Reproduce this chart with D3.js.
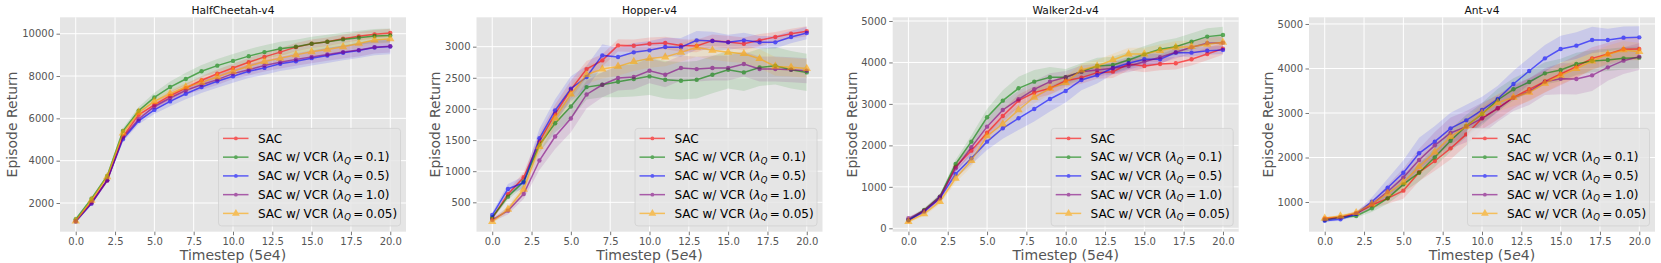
<!DOCTYPE html>
<html>
<head>
<meta charset="utf-8">
<script src="https://cdn.jsdelivr.net/npm/d3@7"></script>
<style>
  body { margin: 0; background: #fff; }
  svg { display: block; font-family: "DejaVu Sans", sans-serif; }
</style>
</head>
<body>
<svg id="chart" width="1661" height="263"></svg>
<script>
// timesteps (x 5e4)
const steps = d3.range(0, 21);

const envNames = ["HalfCheetah-v4", "Hopper-v4", "Walker2d-v4", "Ant-v4"];
const seriesNames = ["SAC", "0.1", "0.5", "1.0", "0.05"];
const seriesColors = ["red", "green", "blue", "purple", "orange"];

const yDomains = [[644, 10775], [28, 3472], [-82, 5089], [333, 5150]];
const yTicks = [
  [2000, 4000, 6000, 8000, 10000],
  [500, 1000, 1500, 2000, 2500, 3000],
  [0, 1000, 2000, 3000, 4000, 5000],
  [1000, 2000, 3000, 4000, 5000]
];
const xTicks = [0, 2.5, 5, 7.5, 10, 12.5, 15, 17.5, 20];

// HalfCheetah means
const hcSac    = [1150, 2050, 3080, 5140, 6170, 6640, 7070, 7430, 7800, 8110, 8380, 8650, 8905, 9130, 9365, 9525, 9620, 9760, 9875, 9970, 10030];
const hcVcr01  = [1230, 2200, 3280, 5400, 6360, 6990, 7480, 7860, 8225, 8490, 8715, 8940, 9130, 9290, 9385, 9525, 9620, 9730, 9810, 9890, 9920];
const hcVcr05  = [1130, 1970, 3080, 5010, 5880, 6400, 6800, 7160, 7480, 7750, 7990, 8225, 8385, 8575, 8700, 8845, 8970, 9100, 9210, 9350, 9395];
const hcVcr10  = [1130, 1990, 3050, 5090, 5960, 6560, 6960, 7320, 7590, 7830, 8115, 8300, 8495, 8650, 8780, 8905, 9020, 9130, 9225, 9365, 9410];
const hcVcr005 = [1150, 2130, 3240, 5300, 6280, 6800, 7160, 7480, 7700, 7960, 8225, 8460, 8685, 8840, 9000, 9145, 9255, 9380, 9540, 9700, 9760];
// HalfCheetah band half-widths
const hcSacSd    = [50, 60, 80, 120, 150, 180, 200, 200, 200, 200, 200, 200, 200, 200, 200, 200, 200, 200, 200, 200, 200];
const hcVcr01Sd  = [50, 60, 90, 130, 180, 220, 260, 290, 300, 310, 320, 330, 330, 330, 330, 330, 330, 330, 330, 330, 330];
const hcVcr05Sd  = [50, 60, 80, 120, 160, 200, 230, 260, 280, 300, 310, 320, 330, 340, 350, 350, 350, 360, 360, 370, 370];
const hcVcr10Sd  = [50, 60, 80, 120, 150, 180, 200, 220, 240, 250, 260, 270, 280, 290, 300, 300, 300, 300, 300, 300, 300];
const hcVcr005Sd = [50, 60, 80, 120, 150, 180, 200, 200, 200, 200, 200, 200, 200, 200, 200, 200, 200, 200, 200, 200, 200];

// Hopper means
const hoSac    = [242, 630, 902, 1477, 1922, 2308, 2640, 2780, 3021, 3016, 3048, 3059, 3020, 3010, 3097, 3075, 3048, 3102, 3156, 3209, 3247];
const hoVcr01  = [259, 591, 833, 1423, 1771, 2040, 2351, 2388, 2437, 2480, 2523, 2469, 2453, 2469, 2550, 2630, 2587, 2667, 2694, 2630, 2587];
const hoVcr05  = [296, 715, 817, 1530, 1975, 2324, 2512, 2860, 2834, 2909, 2941, 2995, 2990, 3102, 3091, 3070, 3102, 3070, 3070, 3155, 3220];
const hoVcr10  = [216, 366, 634, 1171, 1557, 1847, 2233, 2388, 2496, 2512, 2614, 2550, 2657, 2640, 2657, 2657, 2721, 2641, 2641, 2630, 2614];
const hoVcr005 = [189, 387, 709, 1396, 1852, 2238, 2550, 2640, 2683, 2760, 2812, 2834, 2909, 2990, 2941, 2909, 2887, 2807, 2683, 2670, 2650];
const hoSacSd    = [30, 60, 80, 120, 150, 150, 130, 100, 100, 100, 100, 100, 100, 100, 100, 100, 100, 100, 80, 80, 80];
const hoVcr01Sd  = [30, 50, 80, 120, 150, 200, 200, 200, 250, 280, 300, 300, 300, 300, 300, 300, 300, 300, 300, 300, 300];
const hoVcr05Sd  = [40, 80, 100, 150, 180, 200, 180, 180, 150, 150, 150, 150, 150, 150, 150, 120, 120, 100, 100, 100, 100];
const hoVcr10Sd  = [30, 60, 80, 150, 200, 220, 220, 200, 200, 200, 200, 200, 200, 200, 200, 200, 200, 200, 200, 200, 200];
const hoVcr005Sd = [30, 50, 80, 120, 150, 150, 150, 150, 150, 150, 150, 150, 150, 150, 150, 150, 150, 150, 150, 150, 150];

// Walker2d means
const waSac    = [185, 426, 723, 1487, 1873, 2307, 2709, 3079, 3272, 3376, 3561, 3634, 3754, 3778, 3963, 3915, 3963, 3979, 4076, 4204, 4333];
const waVcr01  = [200, 442, 764, 1551, 2090, 2677, 3079, 3376, 3537, 3642, 3642, 3778, 3915, 3939, 4060, 4196, 4317, 4381, 4502, 4623, 4663];
const waVcr05  = [200, 402, 723, 1310, 1688, 2090, 2412, 2653, 2878, 3119, 3312, 3577, 3690, 3867, 3979, 4076, 4076, 4237, 4237, 4285, 4301];
const waVcr10  = [241, 426, 764, 1447, 1953, 2452, 2854, 3111, 3352, 3537, 3642, 3778, 3818, 3859, 3915, 4019, 4124, 4245, 4365, 4462, 4478];
const waVcr005 = [160, 346, 643, 1206, 1632, 2227, 2516, 2854, 3160, 3376, 3513, 3818, 3915, 4060, 4204, 4204, 4285, 4365, 4381, 4438, 4486];
const waSacSd    = [30, 50, 60, 100, 120, 150, 150, 150, 150, 150, 150, 150, 150, 150, 150, 150, 150, 150, 150, 150, 150];
const waVcr01Sd  = [30, 50, 60, 100, 150, 200, 250, 280, 280, 250, 200, 200, 200, 200, 200, 200, 200, 200, 200, 200, 200];
const waVcr05Sd  = [30, 50, 60, 100, 150, 200, 250, 280, 300, 300, 280, 250, 200, 150, 150, 150, 120, 100, 100, 100, 100];
const waVcr10Sd  = [30, 50, 60, 100, 150, 200, 200, 200, 200, 200, 150, 150, 150, 150, 150, 150, 150, 150, 150, 150, 150];
const waVcr005Sd = [30, 50, 60, 100, 150, 150, 150, 150, 150, 150, 150, 150, 150, 150, 150, 150, 150, 150, 150, 150, 150];

// Ant means
const anSac    = [633, 655, 745, 933, 1082, 1255, 1667, 1921, 2206, 2520, 2880, 3105, 3352, 3532, 3711, 3876, 4041, 4228, 4326, 4431, 4438];
const anVcr01  = [596, 655, 685, 858, 1082, 1397, 1659, 2004, 2378, 2708, 2977, 3292, 3532, 3696, 3891, 3966, 4101, 4168, 4191, 4228, 4243];
const anVcr05  = [580, 610, 730, 1007, 1322, 1659, 2094, 2356, 2655, 2835, 3067, 3314, 3651, 3944, 4228, 4438, 4513, 4640, 4640, 4693, 4700];
const anVcr10  = [610, 655, 745, 948, 1232, 1554, 1944, 2273, 2550, 2693, 2880, 3105, 3344, 3480, 3704, 3771, 3764, 3846, 4026, 4176, 4266];
const anVcr005 = [633, 685, 760, 955, 1195, 1442, 1794, 2124, 2468, 2693, 2992, 3232, 3352, 3464, 3666, 3846, 3996, 4168, 4318, 4416, 4378];
const anSacSd    = [30, 30, 40, 80, 120, 180, 200, 220, 250, 250, 250, 250, 250, 250, 250, 250, 250, 250, 250, 250, 250];
const anVcr01Sd  = [30, 30, 40, 80, 120, 180, 200, 220, 250, 250, 250, 250, 250, 250, 250, 250, 250, 250, 250, 250, 250];
const anVcr05Sd  = [30, 30, 40, 100, 200, 280, 350, 350, 350, 350, 300, 300, 300, 300, 300, 300, 300, 300, 250, 250, 250];
const anVcr10Sd  = [30, 30, 40, 80, 150, 200, 250, 300, 350, 350, 350, 300, 300, 300, 300, 350, 350, 350, 300, 300, 300];
const anVcr005Sd = [30, 30, 40, 80, 120, 150, 200, 200, 200, 200, 200, 200, 200, 200, 200, 200, 200, 200, 200, 200, 200];

const panelMeans = [
  [hcSac, hcVcr01, hcVcr05, hcVcr10, hcVcr005],
  [hoSac, hoVcr01, hoVcr05, hoVcr10, hoVcr005],
  [waSac, waVcr01, waVcr05, waVcr10, waVcr005],
  [anSac, anVcr01, anVcr05, anVcr10, anVcr005]
];
const panelSds = [
  [hcSacSd, hcVcr01Sd, hcVcr05Sd, hcVcr10Sd, hcVcr005Sd],
  [hoSacSd, hoVcr01Sd, hoVcr05Sd, hoVcr10Sd, hoVcr005Sd],
  [waSacSd, waVcr01Sd, waVcr05Sd, waVcr10Sd, waVcr005Sd],
  [anSacSd, anVcr01Sd, anVcr05Sd, anVcr10Sd, anVcr005Sd]
];

// layout
const plotLefts = [60, 476.5, 892.7, 1309];
const yLabelOffsets = [-48.3, -41.5, -41, -41];
const plotW = 346, plotTop = 17.3, plotBottom = 231.7;

const svg = d3.select("#chart");

envNames.forEach((env, p) => {
  const left = plotLefts[p];
  const g = svg.append("g");
  const x = d3.scaleLinear().domain([-1, 21]).range([left, left + plotW]);
  const y = d3.scaleLinear().domain(yDomains[p]).range([plotBottom, plotTop]);

  g.append("rect")
    .attr("x", left).attr("y", plotTop)
    .attr("width", plotW).attr("height", plotBottom - plotTop)
    .attr("fill", "#e5e5e5");

  // grid
  g.selectAll(".gx").data(xTicks).enter().append("line")
    .attr("x1", d => x(d)).attr("x2", d => x(d))
    .attr("y1", plotTop).attr("y2", plotBottom)
    .attr("stroke", "#fff").attr("stroke-width", 1);
  g.selectAll(".gy").data(yTicks[p]).enter().append("line")
    .attr("x1", left).attr("x2", left + plotW)
    .attr("y1", d => y(d)).attr("y2", d => y(d))
    .attr("stroke", "#fff").attr("stroke-width", 1);

  // axes
  const xAxis = d3.axisBottom(x).tickValues(xTicks).tickFormat(d3.format(".1f"))
    .tickSize(3.5).tickPadding(2.5);
  const yAxis = d3.axisLeft(y).tickValues(yTicks[p]).tickFormat(d => d)
    .tickSize(3.5).tickPadding(2.5);
  const xg = g.append("g").attr("transform", "translate(0," + plotBottom + ")").call(xAxis);
  const yg = g.append("g").attr("transform", "translate(" + left + ",0)").call(yAxis);
  [xg, yg].forEach(a => {
    a.select(".domain").remove();
    a.selectAll(".tick line").attr("stroke", "#555").attr("stroke-width", 0.8);
    a.selectAll(".tick text").attr("fill", "#555").style("font-size", "10px")
      .style("font-family", "DejaVu Sans, sans-serif");
  });

  // bands
  panelMeans[p].forEach((vals, s) => {
    const sd = panelSds[p][s];
    const area = d3.area()
      .x((d, i) => x(steps[i]))
      .y0((d, i) => y(d - sd[i]))
      .y1((d, i) => y(d + sd[i]));
    g.append("path").datum(vals)
      .attr("d", area)
      .attr("fill", seriesColors[s]).attr("fill-opacity", 0.12);
  });

  // lines + markers
  panelMeans[p].forEach((vals, s) => {
    const line = d3.line().x((d, i) => x(steps[i])).y(d => y(d));
    const sg = g.append("g").attr("opacity", 0.6);
    sg.append("path").datum(vals)
      .attr("d", line).attr("fill", "none")
      .attr("stroke", seriesColors[s]).attr("stroke-width", 1.5);
    if (s === 4) {
      const tri = d3.symbol().type(d3.symbolTriangle).size(30);
      sg.selectAll("path.m").data(vals).enter().append("path")
        .attr("class", "m")
        .attr("d", tri)
        .attr("transform", (d, i) => "translate(" + x(steps[i]) + "," + y(d) + ")")
        .attr("fill", seriesColors[s]);
    } else {
      sg.selectAll("circle").data(vals).enter().append("circle")
        .attr("cx", (d, i) => x(steps[i])).attr("cy", d => y(d))
        .attr("r", 2.2).attr("fill", seriesColors[s]);
    }
  });

  // title and labels
  const cx = left + plotW / 2;
  g.append("text").attr("x", cx).attr("y", 14)
    .attr("text-anchor", "middle").style("font-size", "10.7px").attr("fill", "#111")
    .text(env);

  const xl = g.append("text").attr("x", cx).attr("y", 259.5)
    .attr("text-anchor", "middle").style("font-size", "14px").attr("fill", "#555");
  xl.append("tspan").text("Timestep (5");
  xl.append("tspan").style("font-style", "italic").text("e");
  xl.append("tspan").text("4)");

  const ly = (plotTop + plotBottom) / 2;
  const lx = left + yLabelOffsets[p] + 5;
  g.append("text")
    .attr("transform", "translate(" + lx + "," + ly + ") rotate(-90)")
    .attr("text-anchor", "middle").style("font-size", "14px").attr("fill", "#555")
    .text("Episode Return");

  // legend
  const lgW = 182, lgH = 97.5;
  const lgX = left + plotW - 5.5 - lgW, lgY = plotBottom - 5.8 - lgH;
  const lg = g.append("g").attr("transform", "translate(" + lgX + "," + lgY + ")");
  lg.append("rect").attr("width", lgW).attr("height", lgH).attr("rx", 3)
    .attr("fill", "#e5e5e5").attr("fill-opacity", 0.8)
    .attr("stroke", "#d0d0d0").attr("stroke-width", 0.8);
  seriesNames.forEach((name, s) => {
    const ry = 10 + s * 18.75;
    const item = lg.append("g").attr("opacity", 0.6);
    item.append("line").attr("x1", 4.5).attr("x2", 30).attr("y1", ry).attr("y2", ry)
      .attr("stroke", seriesColors[s]).attr("stroke-width", 1.5);
    if (s === 4) {
      item.append("path").attr("d", d3.symbol().type(d3.symbolTriangle).size(26))
        .attr("transform", "translate(17.4," + ry + ")").attr("fill", seriesColors[s]);
    } else {
      item.append("circle").attr("cx", 17.4).attr("cy", ry).attr("r", 1.9)
        .attr("fill", seriesColors[s]);
    }
    const t = lg.append("text").attr("x", 39.4).attr("y", ry + 4.2)
      .style("font-size", "12px").attr("fill", "#000");
    if (s === 0) {
      t.text("SAC");
    } else {
      t.append("tspan").text("SAC w/ VCR (");
      t.append("tspan").style("font-style", "italic").text("\u03bb");
      t.append("tspan").style("font-style", "italic").style("font-size", "8.5px")
        .attr("dy", 2.5).text("Q");
      t.append("tspan").attr("dy", -2.5).text("\u2009=\u2009" + name + ")");
    }
  });
});
</script>
</body>
</html>
